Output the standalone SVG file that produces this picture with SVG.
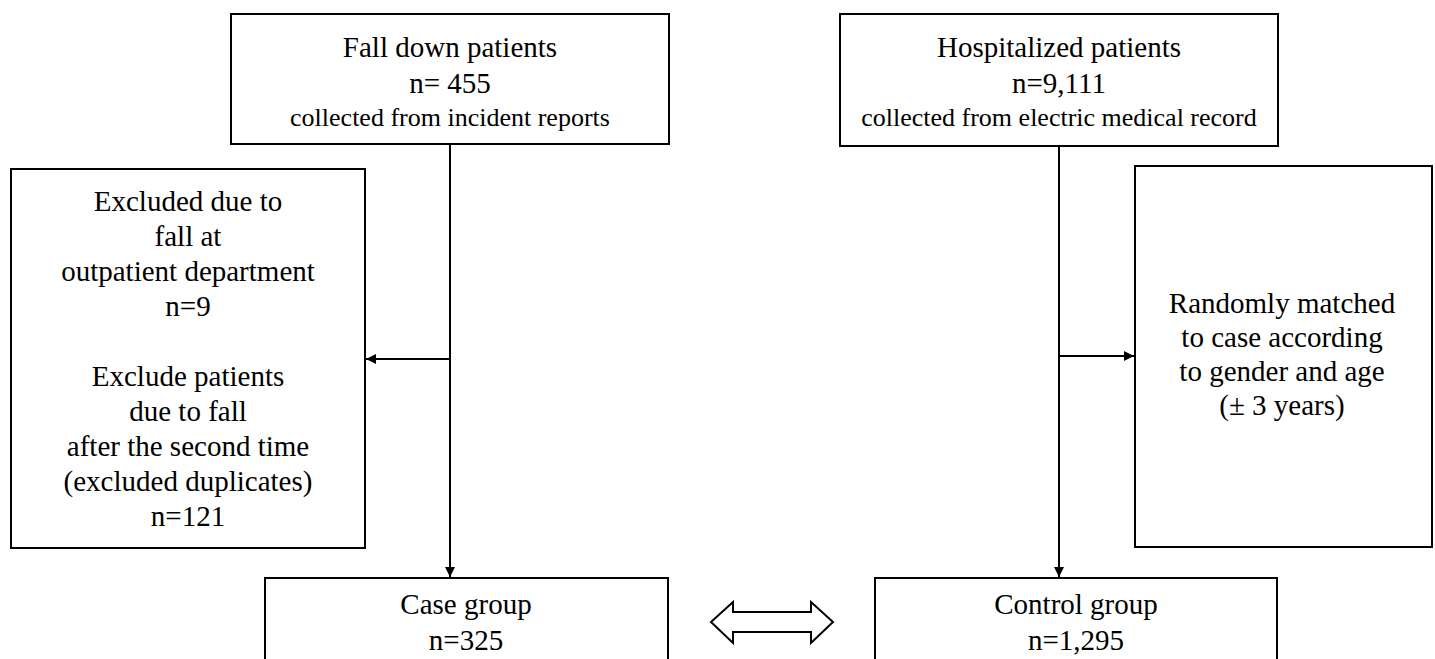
<svg xmlns="http://www.w3.org/2000/svg" width="1435" height="659" viewBox="0 0 1435 659">
<style>
.box{fill:#fff;stroke:#000;stroke-width:2}
.t{font-family:"Liberation Serif","Times New Roman",serif;font-size:29px;fill:#000;text-anchor:middle}
.s{font-size:26px}
.c{stroke:#000;stroke-width:2;fill:none}
</style>
<defs>
<marker id="ah" viewBox="0 0 10 10" refX="10" refY="5" markerWidth="5" markerHeight="5" orient="auto" markerUnits="strokeWidth">
<path d="M0,0 L10,5 L0,10 z" fill="#000"/>
</marker>
</defs>
<rect width="1435" height="659" fill="#fff"/>
<g id="connectors">
<line class="c" x1="450" y1="144" x2="450" y2="577" marker-end="url(#ah)"/>
<line class="c" x1="450" y1="359" x2="366" y2="359" marker-end="url(#ah)"/>
<line class="c" x1="1059" y1="146" x2="1059" y2="577" marker-end="url(#ah)"/>
<line class="c" x1="1059" y1="356" x2="1134" y2="356" marker-end="url(#ah)"/>
<polygon class="c" fill="#fff" points="711,622 733,602 733,612 811,612 811,602 833,622 811,643 811,632 733,632 733,643"/>
</g>
<g id="fall">
<rect class="box" x="231" y="14" width="438" height="130"/>
<text class="t" x="450" y="57">Fall down patients</text>
<text class="t" x="450" y="93">n= 455</text>
<text class="t s" x="450" y="126">collected from incident reports</text>
</g>
<g id="hospitalized">
<rect class="box" x="840" y="14" width="438" height="132"/>
<text class="t" x="1059" y="57">Hospitalized patients</text>
<text class="t" x="1059" y="93">n=9,111</text>
<text class="t s" x="1059" y="126">collected from electric medical record</text>
</g>
<g id="excluded">
<rect class="box" x="11" y="169" width="354" height="379"/>
<text class="t" x="188" y="211">Excluded due to</text>
<text class="t" x="188" y="246">fall at</text>
<text class="t" x="188" y="281">outpatient department</text>
<text class="t" x="188" y="316">n=9</text>
<text class="t" x="188" y="386">Exclude patients</text>
<text class="t" x="188" y="421">due to fall</text>
<text class="t" x="188" y="456">after the second time</text>
<text class="t" x="188" y="491">(excluded duplicates)</text>
<text class="t" x="188" y="526">n=121</text>
</g>
<g id="matched">
<rect class="box" x="1135" y="166" width="297" height="381"/>
<text class="t" x="1282" y="313">Randomly matched</text>
<text class="t" x="1282" y="347">to case according</text>
<text class="t" x="1282" y="381">to gender and age</text>
<text class="t" x="1282" y="415">(± 3 years)</text>
</g>
<g id="case">
<rect class="box" x="265" y="578" width="403" height="110"/>
<text class="t" x="466" y="614">Case group</text>
<text class="t" x="466" y="650">n=325</text>
</g>
<g id="control">
<rect class="box" x="875" y="578" width="402" height="110"/>
<text class="t" x="1076" y="614">Control group</text>
<text class="t" x="1076" y="650">n=1,295</text>
</g>
</svg>
